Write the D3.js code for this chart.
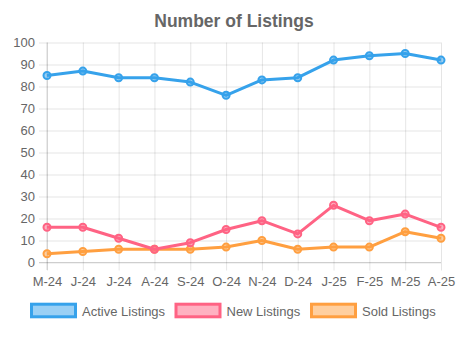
<!DOCTYPE html>
<html><head><meta charset="utf-8">
<script src="https://cdn.jsdelivr.net/npm/d3@7"></script>
<style>body{margin:0;background:#fff}svg{display:block}</style>
</head><body>
<script>
const months = ["M-24","J-24","J-24","A-24","S-24","O-24","N-24","D-24","J-25","F-25","M-25","A-25"];
const active = [85,87,84,84,82,76,83,84,92,94,95,92];
const newL = [16,16,11,6,9,15,19,13,26,19,22,16];
const sold = [4,5,6,6,6,7,10,6,7,7,14,11];
const yTicks = [0,10,20,30,40,50,60,70,80,90,100];
const seriesNames = ["Active Listings","New Listings","Sold Listings"];
const seriesColors = ["rgb(54,162,235)","rgb(255,99,132)","rgb(255,159,64)"];
const seriesFill = ["rgba(54,162,235,0.5)","rgba(255,99,132,0.5)","rgba(255,159,64,0.5)"];
const seriesData = [active,newL,sold];

const W=459,H=337;
const font='"Liberation Sans", Arial, Helvetica, sans-serif';
const svg=d3.select("body").append("svg").attr("width",W).attr("height",H);
const x=d3.scalePoint().domain(d3.range(months.length)).range([47,441]);
const y=d3.scaleLinear().domain([0,100]).range([262.5,42.5]);

svg.append("text").attr("x",234).attr("y",27).attr("text-anchor","middle")
  .attr("font-family",font).attr("font-size",17.5).attr("font-weight","bold").attr("fill","#666")
  .text("Number of Listings");

// y axis
const ya=svg.append("g").attr("transform","translate(47,0)")
  .call(d3.axisLeft(y).tickValues(yTicks).tickSize(8).tickPadding(4).tickFormat(d3.format("d")));
ya.select(".domain").remove();
ya.selectAll("line").attr("stroke","rgba(0,0,0,0.1)").attr("x2",-8).attr("x1",394);
ya.selectAll("text").attr("font-family",font).attr("font-size",13).attr("fill","#666");

// x axis
const xa=svg.append("g").attr("transform","translate(0,262.5)")
  .call(d3.axisBottom(x).tickSize(8).tickPadding(6).tickFormat(i=>months[i]));
xa.select(".domain").remove();
xa.selectAll("line").attr("stroke","rgba(0,0,0,0.1)").attr("y1",-220).attr("y2",8);
xa.selectAll("text").attr("font-family",font).attr("font-size",13).attr("fill","#666");

svg.append("line").attr("x1",39).attr("x2",441).attr("y1",y(0)).attr("y2",y(0)).attr("stroke","rgba(0,0,0,0.15)");
svg.append("line").attr("x1",47).attr("x2",47).attr("y1",42.5).attr("y2",270).attr("stroke","rgba(0,0,0,0.15)");

const line=d3.line().x((d,i)=>x(i)).y(d=>y(d));
[2,1,0].forEach(s=>{
  const g=svg.append("g");
  g.append("path").datum(seriesData[s]).attr("d",line).attr("fill","none")
    .attr("stroke",seriesColors[s]).attr("stroke-width",3).attr("stroke-linejoin","round");
  g.selectAll("circle").data(seriesData[s]).join("circle")
    .attr("cx",(d,i)=>x(i)).attr("cy",d=>y(d)).attr("r",3.5)
    .attr("fill",seriesFill[s]).attr("stroke",seriesColors[s]).attr("stroke-width",2);
});

// legend
const legX=[31.5,176,311.5];
const lg=svg.append("g");
seriesNames.forEach((n,i)=>{
  lg.append("rect").attr("x",legX[i]).attr("y",304.2).attr("width",44).attr("height",12.6)
    .attr("fill",seriesFill[i]).attr("stroke",seriesColors[i]).attr("stroke-width",3);
  lg.append("text").attr("x",legX[i]+50.5).attr("y",315.5).attr("font-family",font).attr("font-size",13)
    .attr("fill","#666").text(n);
});
</script>
</body></html>
